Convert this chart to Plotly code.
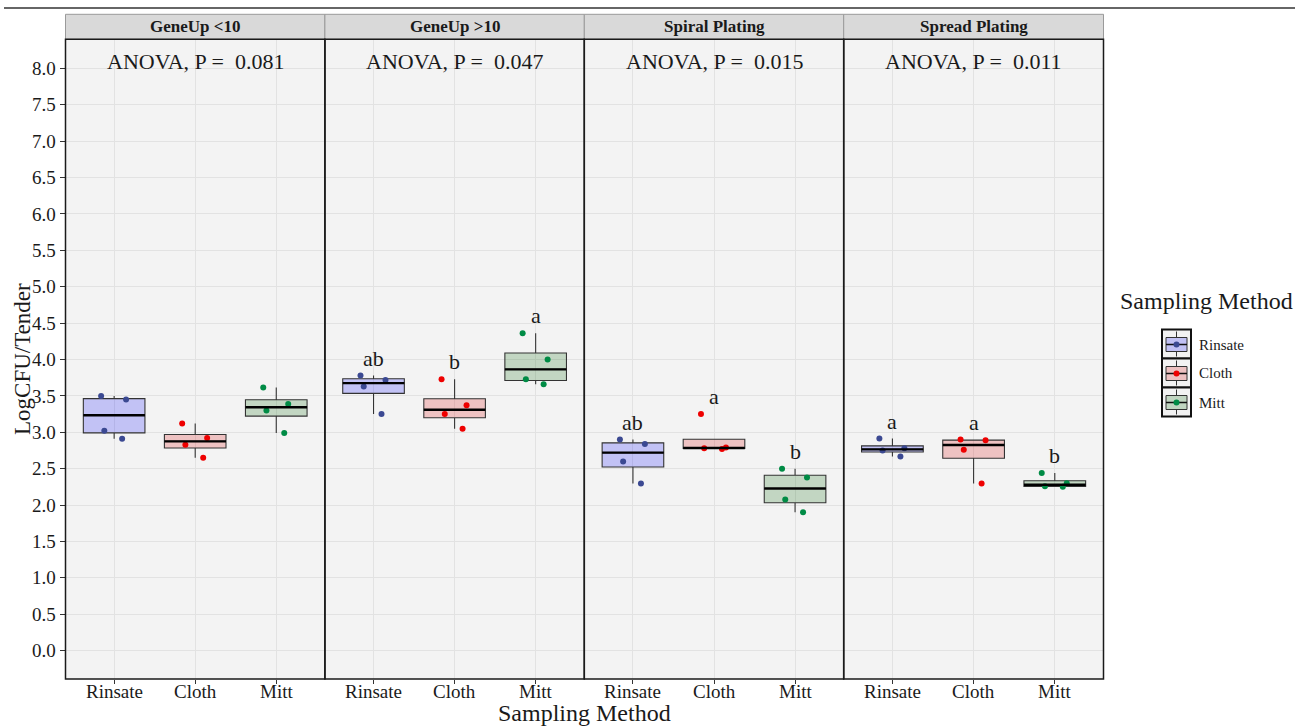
import numpy as np
import plotly.graph_objects as go

# ---- data -------------------------------------------------------------
methods = ["Rinsate", "Cloth", "Mitt"]
panels = ["GeneUp &lt;10", "GeneUp &gt;10", "Spiral Plating", "Spread Plating"]
anova_p = ["0.081", "0.047", "0.015", "0.011"]

# log CFU per tender, one list per panel (GeneUp <10, GeneUp >10, Spiral, Spread)
rinsate = [[2.91, 3.02, 3.45, 3.50],
           [3.25, 3.63, 3.72, 3.78],
           [2.295, 2.60, 2.84, 2.90],
           [2.667, 2.75, 2.78, 2.914]]
cloth = [[2.65, 2.83, 2.92, 3.12],
         [3.05, 3.25, 3.37, 3.73],
         [2.77, 2.78, 2.79, 3.25],
         [2.295, 2.76, 2.89, 2.90]]
mitt = [[2.99, 3.30, 3.39, 3.615],
        [3.66, 3.73, 4.00, 4.36],
        [1.90, 2.075, 2.38, 2.50],
        [2.25, 2.26, 2.30, 2.44]]

# Tukey group letters (none for the non-significant panel)
letters = [["", "", ""],
           ["ab", "b", "a"],
           ["ab", "a", "b"],
           ["a", "a", "b"]]

# ---- styling ----------------------------------------------------------
W, H = 1298, 728
SERIF = "Liberation Serif, Times New Roman, serif"
TXT = "#1a1a1a"
point_colors = {"Rinsate": "#3B4992", "Cloth": "#EE0000", "Mitt": "#008B45"}
fill_colors = {"Rinsate": "rgba(0,0,255,0.2)",
               "Cloth": "rgba(220,0,0,0.2)",
               "Mitt": "rgba(0,100,0,0.2)"}
BOX_W = 0.76
LETTER_PAD = 0.24

panel_edges = [65.5, 324.9, 584.3, 843.7, 1103.5]
plot_top, plot_bot = 39.3, 679.0


def px(x):
    return x / W


def py(y):
    return 1 - y / H


def label(x, y, text, size, xref="paper", yref="paper", xanchor="center",
          angle=0, bold=False):
    return dict(x=x, y=y, xref=xref, yref=yref, text=f"<b>{text}</b>" if bold else text,
                showarrow=False, xanchor=xanchor, yanchor="middle", textangle=angle,
                font=dict(family=SERIF, size=size, color=TXT))


def box_stats(vals):
    v = np.sort(np.asarray(vals, dtype=float))
    q1, med, q3 = np.percentile(v, [25, 50, 75])
    iqr = q3 - q1
    lo = v[v >= q1 - 1.5 * iqr].min()
    hi = v[v <= q3 + 1.5 * iqr].max()
    return q1, med, q3, min(lo, q1), max(hi, q3)


series = {"Rinsate": rinsate, "Cloth": cloth, "Mitt": mitt}

fig = go.Figure()
annotations = []
shapes = []

for k, title in enumerate(panels):
    xa = "x" if k == 0 else f"x{k + 1}"
    for i, m in enumerate(methods):
        vals = series[m][k]
        q1, med, q3, lo, hi = box_stats(vals)
        pos = i + 1
        fig.add_trace(go.Box(
            x=[pos], q1=[q1], median=[med], q3=[q3],
            lowerfence=[lo], upperfence=[hi],
            width=BOX_W, whiskerwidth=0,
            fillcolor=fill_colors[m],
            line=dict(color="#333333", width=1.1),
            boxpoints=False, showlegend=False, hoverinfo="skip",
            xaxis=xa, yaxis="y"))
        # thicker median bar
        fig.add_trace(go.Scatter(
            x=[pos - BOX_W / 2, pos + BOX_W / 2], y=[med, med],
            mode="lines", line=dict(color="black", width=2.4),
            showlegend=False, hoverinfo="skip", xaxis=xa, yaxis="y"))
        # jittered raw observations
        fig.add_trace(go.Box(
            x=[pos] * len(vals), y=vals,
            width=BOX_W, boxpoints="all", jitter=0.5, pointpos=0,
            fillcolor="rgba(0,0,0,0)",
            line=dict(color="rgba(0,0,0,0)", width=0),
            marker=dict(color=point_colors[m], size=6),
            showlegend=False, hoverinfo="y", xaxis=xa, yaxis="y"))
        if letters[k][i]:
            annotations.append(label(pos, max(vals) + LETTER_PAD, letters[k][i], 22,
                                     xref=xa, yref="y"))
        # category label under the panel
        annotations.append(label(pos, py(691), m, 19, xref=xa))

    # ANOVA label
    annotations.append(label(0.5, 8.1, f"ANOVA, P =\u00a0 {anova_p[k]}", 22,
                             xref=f"{xa} domain", yref="y"))
    # strip header
    shapes.append(dict(type="rect", xref="paper", yref="paper",
                       x0=px(panel_edges[k]), x1=px(panel_edges[k + 1]),
                       y0=py(plot_top), y1=py(14.3),
                       fillcolor="#d9d9d9", line=dict(color="#9a9a9a", width=1),
                       layer="below"))
    annotations.append(label(px((panel_edges[k] + panel_edges[k + 1]) / 2), py(27),
                             title, 17, bold=True))
    # panel border
    shapes.append(dict(type="rect", xref=f"{xa} domain", yref="y domain",
                       x0=0, x1=1, y0=0, y1=1,
                       line=dict(color="#1a1a1a", width=1.5), layer="above"))

# axes
axis_common = dict(showgrid=True, gridcolor="#e2e2e2", gridwidth=1,
                   zeroline=False, ticks="outside", tickcolor="#333333",
                   showline=False, automargin=False,
                   tickfont=dict(family=SERIF, size=19, color=TXT))
layout_axes = {}
for k in range(4):
    name = "xaxis" if k == 0 else f"xaxis{k + 1}"
    layout_axes[name] = dict(
        axis_common, domain=[px(panel_edges[k]), px(panel_edges[k + 1])],
        range=[0.4, 3.6], tickvals=[1, 2, 3], showticklabels=False,
        ticklen=4, anchor="y")
layout_axes["yaxis"] = dict(
    axis_common, domain=[py(plot_bot), py(plot_top)],
    range=[-0.39, 8.40], tick0=0, dtick=0.5, tickformat=".1f",
    ticklen=5, anchor="x")

# axis titles
annotations.append(label(px(584.5), py(713), "Sampling Method", 24))
annotations.append(label(px(22), py(359), "LogCFU/Tender", 23, angle=-90))

# rule across the top
shapes.append(dict(type="line", xref="paper", yref="paper",
                   x0=px(4), x1=px(1295), y0=py(8), y1=py(8),
                   line=dict(color="#333333", width=1.5)))

# legend drawn as keys
annotations.append(label(px(1206), py(301), "Sampling Method", 24))
key_top = 329.5
key_h = 29
for i, m in enumerate(methods):
    t = key_top + i * key_h
    b = t + key_h
    cx = 1176.5
    shapes.append(dict(type="rect", xref="paper", yref="paper",
                       x0=px(1162), x1=px(1191), y0=py(b), y1=py(t),
                       fillcolor="#f2f2f2", line=dict(color="#111111", width=2)))
    shapes.append(dict(type="line", xref="paper", yref="paper",
                       x0=px(cx), x1=px(cx), y0=py(b - 2), y1=py(t + 2),
                       line=dict(color="#333333", width=1)))
    shapes.append(dict(type="rect", xref="paper", yref="paper",
                       x0=px(1166), x1=px(1187), y0=py(b - 7), y1=py(t + 8),
                       fillcolor="#f2f2f2", line=dict(width=0)))
    shapes.append(dict(type="rect", xref="paper", yref="paper",
                       x0=px(1166), x1=px(1187), y0=py(b - 7), y1=py(t + 8),
                       fillcolor=fill_colors[m], line=dict(color="#333333", width=1)))
    mid = (t + 8 + b - 7) / 2
    shapes.append(dict(type="line", xref="paper", yref="paper",
                       x0=px(1166), x1=px(1187), y0=py(mid), y1=py(mid),
                       line=dict(color="#111111", width=1.5)))
    shapes.append(dict(type="circle", xref="paper", yref="paper",
                       x0=px(cx - 3), x1=px(cx + 3), y0=py(mid + 3), y1=py(mid - 3),
                       fillcolor=point_colors[m], line=dict(width=0)))
    annotations.append(label(px(1197), py(mid), m, 15, xanchor="left"))

fig.update_layout(
    template="none",
    width=W, height=H,
    margin=dict(l=0, r=0, t=0, b=0),
    paper_bgcolor="white", plot_bgcolor="#f3f3f3",
    boxmode="overlay", showlegend=False,
    annotations=annotations, shapes=shapes,
    **layout_axes)

fig.write_html("out.html")
